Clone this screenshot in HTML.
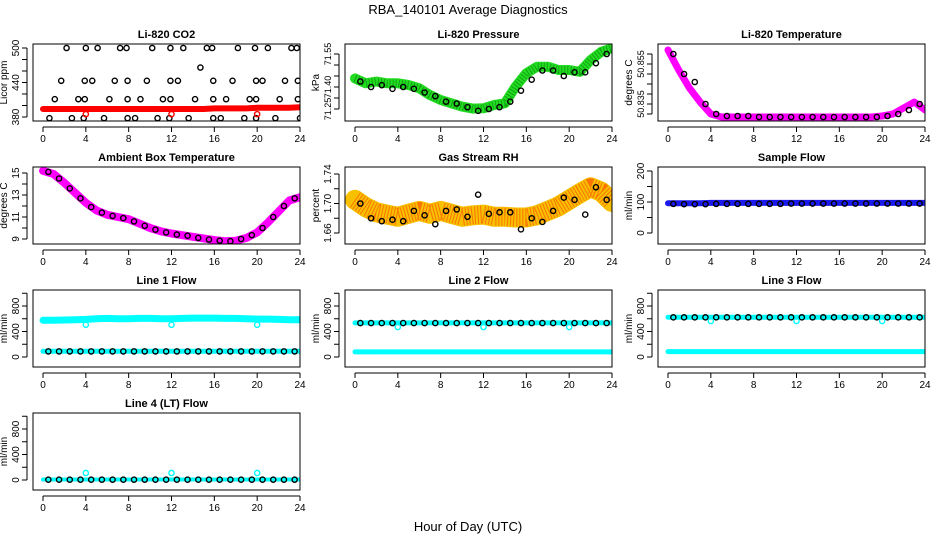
<!DOCTYPE html>
<html><head><meta charset="utf-8"><style>
html,body{margin:0;padding:0;background:#fff;}
svg{display:block;font-family:"Liberation Sans",Arial,sans-serif;}
</style></head><body>
<svg id="chart" width="936" height="540" viewBox="0 0 936 540" xmlns="http://www.w3.org/2000/svg">
<text x="468" y="14" text-anchor="middle" font-size="13">RBA_140101  Average Diagnostics</text>
<text x="468" y="531" text-anchor="middle" font-size="13">Hour of Day (UTC)</text>
</svg>
<script>
// ---- data ----
const bandHours = [0,1,2,3,4,5,6,7,8,9,10,11,12,13,14,15,16,17,18,19,20,21,22,23,24];
const circHours = [0.5,1.5,2.5,3.5,4.5,5.5,6.5,7.5,8.5,9.5,10.5,11.5,12.5,13.5,14.5,15.5,16.5,17.5,18.5,19.5,20.5,21.5,22.5,23.5];
const xTicks = [0,4,8,12,16,20,24];

const co2Band = [394,394,394,394,394,394,394,394,394,394,394,394,394,394,394,394,395,395,395,395,396,396,396,396,397];
const co2CircH = [2.2,4.0,5.1,7.2,7.8,10.2,11.9,13.1,15.3,15.8,18.2,19.8,21.0,23.2,23.7,14.7,
  1.7,3.9,4.6,6.7,7.9,9.7,11.9,12.6,15.9,17.7,19.9,20.5,22.6,23.8,
  1.1,3.3,3.9,6.2,7.9,9.1,11.2,11.9,14.2,15.9,17.1,19.3,19.9,22.1,23.8,
  0.6,2.7,3.8,5.7,7.9,8.6,10.7,11.8,13.6,15.9,16.6,18.8,19.9,21.7,24.0];
const co2CircV = [500,500,500,500,500,500,500,500,500,500,500,500,500,500,500,466,
  443,443,443,443,443,443,443,443,443,443,443,443,443,443,
  411,411,411,411,411,411,411,411,411,411,411,411,411,411,411,
  378,378,378,378,378,378,378,378,378,378,378,378,378,378,378];
const co2RedH = [4,12,20];
const co2RedV = [385,385,385];

const presBand = [71.417,71.39,71.40,71.39,71.39,71.381,71.363,71.326,71.299,71.281,71.263,71.252,71.254,71.272,71.281,71.372,71.445,71.481,71.481,71.463,71.463,71.453,71.517,71.562,71.581];
const presCirc = [71.40,71.37,71.38,71.36,71.37,71.36,71.34,71.32,71.29,71.28,71.26,71.24,71.25,71.26,71.29,71.35,71.41,71.46,71.46,71.43,71.45,71.45,71.50,71.55];

const tempBand = [50.862,50.852,50.843,50.836,50.830,50.8285,50.8285,50.8285,50.8285,50.8285,50.8285,50.8285,50.8285,50.8285,50.8285,50.8285,50.8285,50.8285,50.8285,50.8285,50.829,50.830,50.833,50.836,50.832];
const tempCirc = [50.860,50.850,50.846,50.835,50.830,50.829,50.829,50.829,50.8285,50.8285,50.8285,50.8285,50.8285,50.8285,50.8285,50.8285,50.8285,50.8285,50.8285,50.8285,50.829,50.830,50.832,50.835];

const ambBand = [15.2,14.9,14.1,13.2,12.3,11.6,11.2,11.0,10.8,10.4,10.0,9.7,9.5,9.35,9.2,9.05,8.9,8.8,8.85,9.1,9.6,10.5,11.5,12.5,12.8];
const ambCirc = [15.1,14.5,13.6,12.7,11.9,11.4,11.1,10.9,10.6,10.2,9.85,9.6,9.4,9.3,9.1,8.95,8.85,8.8,9.0,9.35,10.0,11.0,12.0,12.7];

const rhBand = [1.705,1.695,1.688,1.685,1.682,1.686,1.690,1.686,1.690,1.686,1.682,1.684,1.685,1.682,1.682,1.681,1.681,1.684,1.690,1.696,1.705,1.714,1.722,1.716,1.702];
const rhCirc = [1.700,1.680,1.676,1.678,1.676,1.690,1.684,1.672,1.690,1.692,1.682,1.712,1.686,1.688,1.688,1.665,1.680,1.675,1.690,1.708,1.705,1.685,1.722,1.705];

const sampBand = [96,96,96,96,97,97,97,97,97,97,97,97,97,97,97,97,97,97,97,97,97,97,97,97,97];
const sampCirc = [94,93,93,93,94,94,94,94,94,94,94,95,95,95,95,95,95,95,95,95,95,95,95,95];

const l1Upper = [575,575,580,585,590,600,605,600,600,605,605,600,600,605,610,610,610,605,605,600,595,595,590,585,585];
const l1Lower = [90,90,90,90,90,90,90,90,90,90,90,90,90,90,90,90,90,90,90,90,90,90,90,90,90];
const l1Circ = [88,88,88,88,88,88,88,88,88,88,88,88,88,88,88,88,88,88,88,88,88,88,88,88];
const l2Upper = [535,535,535,535,535,535,535,535,535,535,535,535,535,535,535,535,535,535,535,535,535,535,535,535,535];
const l2Lower = [80,80,80,80,80,80,80,80,80,80,80,80,80,80,80,80,80,80,80,80,80,80,80,80,80];
const l2Circ = [532,532,532,532,532,532,532,532,532,532,532,532,532,532,532,532,532,532,532,532,532,532,532,532];
const l3Upper = [625,625,625,625,625,625,625,625,625,625,625,625,625,625,625,625,625,625,625,625,625,625,625,625,625];
const l3Lower = [85,85,85,85,85,85,85,85,85,85,85,85,85,85,85,85,85,85,85,85,85,85,85,85,85];
const l3Circ = [622,622,622,622,622,622,622,622,622,622,622,622,622,622,622,622,622,622,622,622,622,622,622,622];
const l4Band = [8,8,8,8,8,8,8,8,8,8,8,8,8,8,8,8,8,8,8,8,8,8,8,8,8];
const l4Circ = [5,5,5,5,5,5,5,5,5,5,5,5,5,5,5,5,5,5,5,5,5,5,5,5];
const outH = [4,12,20];
const l1Out = [505,505,505];
const l2Out = [470,470,470];
const l3Out = [565,565,565];
const l4Out = [110,110,110];

const co2Ticks=[380,400,420,440,460,480,500], co2Labels=["380","","","440","","","500"];
const presTicks=[71.25,71.31,71.37,71.43,71.49,71.55], presLabels=["71.25","","71.40","","","71.55"];
const tempTicks=[50.83,50.835,50.84,50.845,50.85,50.855,50.86], tempLabels=["","50.835","","","","50.855",""];
const ambTicks=[9,10,11,12,13,14,15], ambLabels=["9","","11","","13","","15"];
const rhTicks=[1.66,1.68,1.70,1.72,1.74], rhLabels=["1.66","","1.70","","1.74"];
const sampTicks=[0,50,100,150,200], sampLabels=["0","","100","","200"];
const flowTicks=[0,200,400,600,800,1000], flowLabels=["0","","400","","800",""];

// ---- drawing ----
const NS="http://www.w3.org/2000/svg";
const svg=document.getElementById('chart');
function mk(tag,attrs,parent){const e=document.createElementNS(NS,tag);for(const k in attrs)e.setAttribute(k,attrs[k]);(parent||svg).appendChild(e);return e;}

const colLeft=[33,345,658], rowTop=[44,167,290,413], BW=267, BH=77;

function panel(cfg){
  const L=colLeft[cfg.col], T=rowTop[cfg.row];
  const g=mk('g',{});
  
  
  const xs=h=>L+10+h*257/24;
  const r=cfg.yRef;
  const ys=v=>T+r[1]+(v-r[0])*(r[3]-r[1])/(r[2]-r[0]);
  const clipId='clip-'+cfg.name;
  const cp=mk('clipPath',{id:clipId},g); mk('rect',{x:L,y:T,width:BW,height:BH},cp);
  const plot=mk('g',{'clip-path':'url(#'+clipId+')'},g);
  (cfg.bands||[]).forEach((b,bi)=>{
    const pts=bandHours.map((h,i)=>xs(h).toFixed(1)+','+ys(b.v[i]).toFixed(1)).join(' ');
    const pl=mk('polyline',{points:pts,fill:'none',stroke:b.color,'stroke-width':b.w,'stroke-linejoin':'round','stroke-linecap':'round'},plot);
    
    
    if(b.dots){const p2=mk('polyline',{points:pts,fill:'none',stroke:b.dots,'stroke-width':b.w-2,'stroke-dasharray':'1 2','stroke-linejoin':'round','opacity':0.5},plot);
      
      }
  });
  (cfg.circles||[]).forEach(c=>{
    c.h.forEach((h,i)=>{
      const ci=mk('circle',{cx:xs(h),cy:ys(c.v[i]),r:2.6,fill:c.fill||'none',stroke:c.color,'stroke-width':1.4},plot);
      
      
    });
  });
  const box=mk('rect',{x:L,y:T,width:BW,height:BH,fill:'none',stroke:'#000','stroke-width':1},g);
  
  
  const by=T+BH+6;
  const xa=mk('line',{x1:xs(0),x2:xs(24),y1:by,y2:by,stroke:'#000'},g);
  
  
  xTicks.forEach(t=>{
    mk('line',{x1:xs(t),x2:xs(t),y1:by,y2:by+5,stroke:'#000'},g);
    const tx=mk('text',{x:xs(t),y:by+15,'text-anchor':'middle','font-size':10},g);
    tx.textContent=t;
    
    
  });
  const ax=L-6;
  const ya=mk('line',{x1:ax,x2:ax,y1:ys(cfg.yTicks[0]),y2:ys(cfg.yTicks[cfg.yTicks.length-1]),stroke:'#000'},g);
  
  
  cfg.yTicks.forEach((t,i)=>{
    const yy=ys(t);
    mk('line',{x1:ax-5,x2:ax,y1:yy,y2:yy,stroke:'#000'},g);
    if(cfg.yLabels[i]){
      const lx=L-14;
      const tx=mk('text',{x:lx,y:yy,'text-anchor':'middle','font-size':cfg.lf||10,transform:'rotate(-90 '+lx+' '+yy+')'},g);
      tx.textContent=cfg.yLabels[i];
      
      
    }
  });
  const yt=mk('text',{x:L-26,y:T+BH/2,'text-anchor':'middle','font-size':10,transform:'rotate(-90 '+(L-26)+' '+(T+BH/2)+')'},g);
  yt.textContent=cfg.ylab;
  
  
  const ti=mk('text',{x:L+BW/2,y:T-6,'text-anchor':'middle','font-size':11,'font-weight':'bold'},g);
  ti.textContent=cfg.title;
  
  
}

const flowRef=[0,67,800,16];
panel({name:'co2',col:0,row:0,title:'Li-820 CO2',ylab:'Licor ppm',yRef:[380,73,500,4],yTicks:co2Ticks,yLabels:co2Labels,
  bands:[{v:co2Band,color:'#ff0000',w:6}],
  circles:[{h:co2CircH,v:co2CircV,color:'#000'},{h:co2RedH,v:co2RedV,color:'#ff0000'}]});
panel({name:'pressure',col:1,row:0,title:'Li-820 Pressure',ylab:'kPa',lf:9,yRef:[71.25,65,71.55,10],yTicks:presTicks,yLabels:presLabels,
  bands:[{v:presBand,color:'#22dd22',w:10,dots:'#006600'}],
  circles:[{h:circHours,v:presCirc,color:'#000'}]});
panel({name:'temperature',col:2,row:0,title:'Li-820 Temperature',ylab:'degrees C',lf:9,yRef:[50.835,60,50.855,20],yTicks:tempTicks,yLabels:tempLabels,
  bands:[{v:tempBand,color:'#ff00ff',w:7}],
  circles:[{h:circHours,v:tempCirc,color:'#000'}]});
panel({name:'ambient-temp',col:0,row:1,title:'Ambient Box Temperature',ylab:'degrees C',yRef:[15,6,9,72],yTicks:ambTicks,yLabels:ambLabels,
  bands:[{v:ambBand,color:'#ff00ff',w:8}],
  circles:[{h:circHours,v:ambCirc,color:'#000'}]});
panel({name:'gas-rh',col:1,row:1,title:'Gas Stream RH',ylab:'percent',yRef:[1.74,7,1.66,66],yTicks:rhTicks,yLabels:rhLabels,
  bands:[{v:rhBand,color:'#f7c000',w:20,dots:'#ff2a00'}],
  circles:[{h:circHours,v:rhCirc,color:'#000'}]});
panel({name:'sample-flow',col:2,row:1,title:'Sample Flow',ylab:'ml/min',yRef:[0,66,200,4],yTicks:sampTicks,yLabels:sampLabels,
  bands:[{v:sampBand,color:'#1a1aee',w:6}],
  circles:[{h:circHours,v:sampCirc,color:'#000'}]});
panel({name:'line1-flow',col:0,row:2,title:'Line 1 Flow',ylab:'ml/min',yRef:flowRef,yTicks:flowTicks,yLabels:flowLabels,
  bands:[{v:l1Upper,color:'#00ffff',w:7},{v:l1Lower,color:'#00ffff',w:5}],
  circles:[{h:circHours,v:l1Circ,color:'#000'},{h:outH,v:l1Out,color:'#00ffff'}]});
panel({name:'line2-flow',col:1,row:2,title:'Line 2 Flow',ylab:'ml/min',yRef:flowRef,yTicks:flowTicks,yLabels:flowLabels,
  bands:[{v:l2Upper,color:'#00ffff',w:5},{v:l2Lower,color:'#00ffff',w:5}],
  circles:[{h:circHours,v:l2Circ,color:'#000'},{h:outH,v:l2Out,color:'#00ffff'}]});
panel({name:'line3-flow',col:2,row:2,title:'Line 3 Flow',ylab:'ml/min',yRef:flowRef,yTicks:flowTicks,yLabels:flowLabels,
  bands:[{v:l3Upper,color:'#00ffff',w:5},{v:l3Lower,color:'#00ffff',w:5}],
  circles:[{h:circHours,v:l3Circ,color:'#000'},{h:outH,v:l3Out,color:'#00ffff'}]});
panel({name:'line4-flow',col:0,row:3,title:'Line 4 (LT) Flow',ylab:'ml/min',yRef:flowRef,yTicks:flowTicks,yLabels:flowLabels,
  bands:[{v:l4Band,color:'#00ffff',w:4}],
  circles:[{h:circHours,v:l4Circ,color:'#000'},{h:outH,v:l4Out,color:'#00ffff'}]});
</script>
</body></html>
